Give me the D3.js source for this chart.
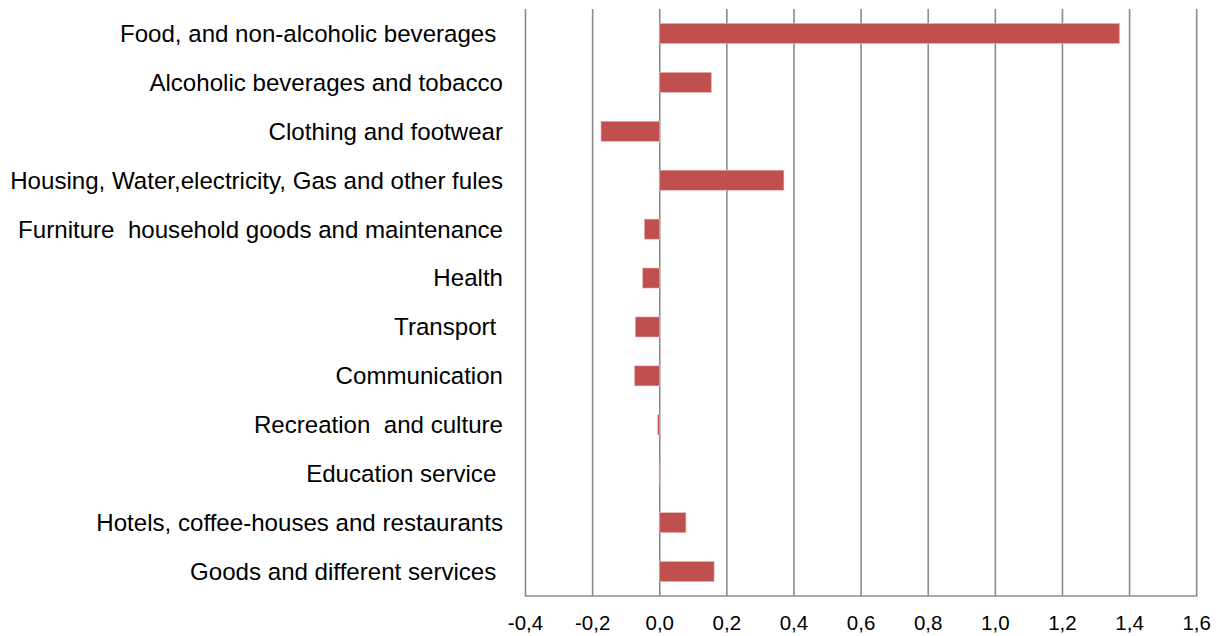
<!DOCTYPE html>
<html>
<head>
<meta charset="utf-8">
<script src="https://cdn.jsdelivr.net/npm/d3@7"></script>
<style>
    body { margin: 0; background: #fff; }
    svg { display: block; font-family: "Liberation Sans", Arial, sans-serif; }
</style>
</head>
<body>
<svg id="grafico" width="1223" height="636"></svg>
<script>
// categorias (espacos finais como no original)
var categorias = [
    "Food, and non-alcoholic beverages ",
    "Alcoholic beverages and tobacco",
    "Clothing and footwear",
    "Housing, Water,electricity, Gas and other fules",
    "Furniture  household goods and maintenance",
    "Health",
    "Transport ",
    "Communication",
    "Recreation  and culture",
    "Education service ",
    "Hotels, coffee-houses and restaurants",
    "Goods and different services "
];
var valores = [1.37, 0.154, -0.175, 0.37, -0.046, -0.051, -0.073, -0.075, -0.006, 0.001, 0.078, 0.162];
var ticks = [-0.4, -0.2, 0.0, 0.2, 0.4, 0.6, 0.8, 1.0, 1.2, 1.4, 1.6];

var svg = d3.select("#grafico");
var esq = 525.5, dir = 1196.7, topo = 9, base = 596;

var x = d3.scaleLinear().domain([-0.4, 1.6]).range([esq, dir]);
var y = d3.scaleBand().domain(categorias).range([topo, base]).paddingInner(0.59).paddingOuter(0.295);

// linhas de grade
svg.append("g").selectAll("line").data(ticks).join("line")
    .attr("x1", d => x(d)).attr("x2", d => x(d))
    .attr("y1", topo).attr("y2", base)
    .attr("stroke", "#8c8c8c")
    .attr("stroke-width", 1.6);

// eixo de baixo
svg.append("line")
    .attr("x1", esq - 0.8).attr("x2", dir + 0.8)
    .attr("y1", base).attr("y2", base)
    .attr("stroke", "#8c8c8c")
    .attr("stroke-width", 1.6);

// barras
svg.append("g").selectAll("rect").data(valores).join("rect")
    .attr("x", d => x(Math.min(0, d)))
    .attr("y", (d, i) => y(categorias[i]))
    .attr("width", d => Math.abs(x(d) - x(0)))
    .attr("height", y.bandwidth())
    .attr("fill", "#c0504d")
    .attr("stroke", "#e8b9b8")
    .attr("stroke-width", 0.6);

// rotulos das categorias
svg.append("g").selectAll("text").data(categorias).join("text")
    .attr("x", 503)
    .attr("y", d => y(d) + y.bandwidth() / 2)
    .attr("dy", "0.35em")
    .attr("text-anchor", "end")
    .style("white-space", "pre")
    .attr("font-size", "24.1px")
    .attr("fill", "#000")
    .text(d => d);

// rotulos do eixo x
var fmt = d3.format(".1f");
svg.append("g").selectAll("text").data(ticks).join("text")
    .attr("x", d => x(d))
    .attr("y", 630)
    .attr("text-anchor", "middle")
    .attr("font-size", "20.5px")
    .attr("fill", "#000")
    .text(d => fmt(d).replace(".", ",").replace("−", "-"));
</script>
</body>
</html>
